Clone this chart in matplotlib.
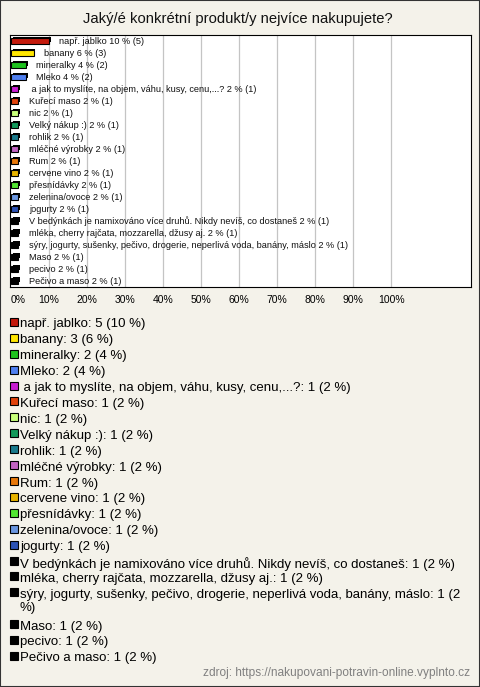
import numpy as np
import matplotlib
matplotlib.use("Agg")
import matplotlib.pyplot as plt
from matplotlib.patches import Rectangle

plt.rcParams['font.family'] = ['Liberation Sans', 'DejaVu Sans']

# data
labels = [
    "např. jablko", "banany", "mineralky", "Mleko",
    " a jak to myslíte, na objem, váhu, kusy, cenu,...?",
    "Kuřecí maso", "nic", "Velký nákup :)", "rohlik", "mléčné výrobky",
    "Rum", "cervene vino", "přesnídávky", "zelenina/ovoce", "jogurty",
    "V bedýnkách je namixováno více druhů. Nikdy nevíš, co dostaneš",
    "mléka, cherry rajčata, mozzarella, džusy aj.",
    "sýry, jogurty, sušenky, pečivo, drogerie, neperlivá voda, banány, máslo",
    "Maso", "pecivo", "Pečivo a maso",
]
counts = [5, 3, 2, 2, 1, 1, 1, 1, 1, 1, 1, 1, 1, 1, 1, 1, 1, 1, 1, 1, 1]
percents = [10, 6, 4, 4, 2, 2, 2, 2, 2, 2, 2, 2, 2, 2, 2, 2, 2, 2, 2, 2, 2]
colors = [
    "#c41a0c", "#ffe600", "#1ec21e", "#4f7ff0", "#c81ed2", "#e0420c",
    "#c8ff7a", "#129a5a", "#1a7a8c", "#c264c2", "#e8780a", "#e8b400",
    "#52e632", "#6a96e0", "#2c52b4", "#000000", "#000000", "#000000",
    "#000000", "#000000", "#000000",
]
ticks = [0, 10, 20, 30, 40, 50, 60, 70, 80, 90, 100]

W, H = 480, 687
bg = "#f4f2ea"
fig = plt.figure(figsize=(W / 100, H / 100), dpi=100, facecolor=bg)
fig.add_artist(Rectangle((0, 0), 1, 1, transform=fig.transFigure,
                         fill=False, edgecolor="#333333", linewidth=1.5))

fig.text(238 / W, 1 - 19 / H, "Jaký/é konkrétní produkt/y nejvíce nakupujete?",
         ha="center", va="center", fontsize=10.6, color="#111111")

ax = fig.add_axes([10 / W, 1 - 287 / H, 461 / W, 252 / H])
ax.set_facecolor("white")
n = len(labels)
y = np.arange(n)
ax.set_xlim(-0.2, 121)
ax.set_ylim(n - 0.5, -0.5)
for v in ticks[1:]:
    ax.axvline(v, color="#c4c4c4", linewidth=0.9, zorder=0)

dx, dy = 0.5, 0.14
ax.barh(y - dy, percents, left=dx, height=0.45, color="#000000", zorder=2)
ax.barh(y, percents, height=0.45, color=colors, edgecolor="#000000",
        linewidth=0.8, zorder=3)
for i in range(n):
    ax.annotate(f"{labels[i]} {percents[i]} % ({counts[i]})", xy=(percents[i], y[i]),
                xytext=(7.5, 0), textcoords="offset points", va="center",
                fontsize=6.6, color="#111111")

ax.set_yticks([])
ax.set_xticks(ticks)
ax.set_xticklabels([f"{t}%" for t in ticks], fontsize=7.5)
ax.get_xticklabels()[0].set_horizontalalignment("left")
ax.tick_params(axis="x", length=0, pad=6)
for s in ax.spines.values():
    s.set_color("#000000")
    s.set_linewidth(0.8)

# legend below
line_h = 15.9
row = 0
for i in range(n):
    text = f"{labels[i]}: {counts[i]} ({percents[i]} %)"
    if i == 17:
        text = f"{labels[i]}: {counts[i]} ({percents[i]}\n%)"
    yc = 322 + row * line_h
    fig.add_artist(Rectangle((10 / W, 1 - (yc + 4) / H), 8 / W, 8 / H,
                             transform=fig.transFigure, facecolor=colors[i],
                             edgecolor="#000000", linewidth=0.8))
    fig.text(20 / W, 1 - (yc - 3.5) / H, text, ha="left", va="top",
             fontsize=9.5, color="#000000", linespacing=1.15)
    row += text.count("\n") + 1

fig.text(470 / W, 1 - 673 / H, "zdroj: https://nakupovani-potravin-online.vyplnto.cz",
         ha="right", va="center", fontsize=8.6, color="#808080")

fig.savefig("out.png", dpi=100, facecolor=bg)
